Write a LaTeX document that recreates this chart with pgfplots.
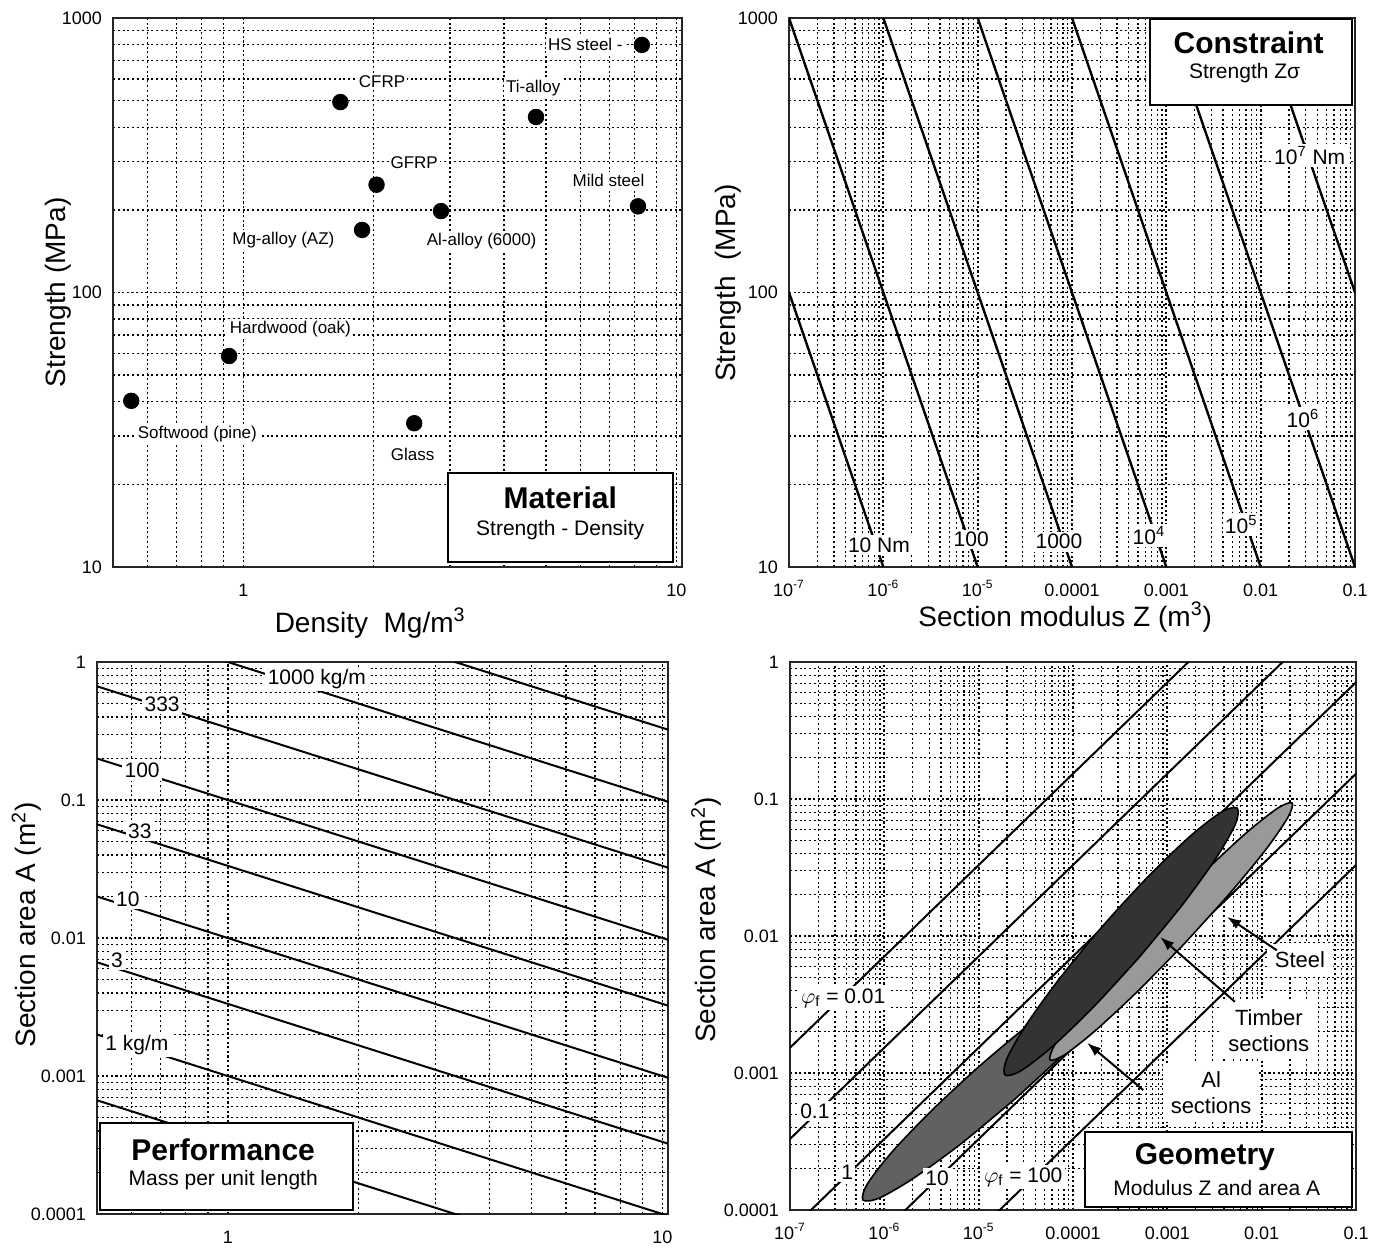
\documentclass[border=0pt]{standalone}
\usepackage{pgfplots}
\usepackage{pgfplotstable}
\pgfplotsset{compat=1.18}
\usepackage{fontspec}
\setmainfont{Liberation Sans}
\usetikzlibrary{arrows.meta}

\pgfplotsset{every axis/.append style={
    scale only axis,
    axis line style={black!85, line width=1.3pt},
    tick style={draw=none},
    grid=both,
    major grid style={black, line width=0.85pt, dash pattern=on 1.1pt off 1.2pt},
    minor grid style={black, line width=0.65pt, dash pattern=on 1pt off 1.4pt},
    tick label style={font=\fontsize{9}{10}\selectfont},
    xticklabel style={yshift=-4pt, text height=7pt, text depth=1pt},
    yticklabel style={xshift=-2pt},
    label style={font=\fontsize{14}{16}\selectfont},
}}
\tikzset{
  lbl/.style={font=\fontsize{8.5}{10}\selectfont, fill=white, inner sep=1pt},
  clbl/.style={font=\fontsize{10.5}{12}\selectfont, fill=white, inner sep=1.2pt},
  btitle/.style={font=\fontsize{15}{17}\selectfont\bfseries, inner sep=0pt},
  bsub/.style={font=\fontsize{10.5}{12}\selectfont, inner sep=0pt},
  boxframe/.style={draw=black, fill=white, line width=1pt},
  albl/.style={font=\fontsize{11}{13}\selectfont, fill=white, inner sep=4pt, align=center},
}

% ellipse outlines, log10(Z) and log10(A)
\pgfplotstableread{
lz la
-4.616 -3.190
-5.181 -3.513
-5.684 -3.765
-6.052 -3.912
-6.226 -3.927
-6.180 -3.810
-5.922 -3.579
-5.491 -3.269
-4.952 -2.926
-4.387 -2.603
-3.884 -2.351
-3.516 -2.204
-3.342 -2.189
-3.388 -2.306
-3.646 -2.537
-4.077 -2.847
-4.616 -3.190
}\altab

\pgfplotstableread{
lz la
-2.821 -2.057
-3.323 -2.409
-3.769 -2.694
-4.092 -2.868
-4.243 -2.905
-4.198 -2.800
-3.965 -2.566
-3.579 -2.243
-3.099 -1.877
-2.597 -1.525
-2.151 -1.240
-1.828 -1.066
-1.677 -1.029
-1.722 -1.134
-1.955 -1.368
-2.341 -1.691
-2.821 -2.057
}\steeltab

\pgfplotstableread{
lz la
-3.298 -2.155
-3.784 -2.519
-4.224 -2.810
-4.553 -2.984
-4.720 -3.014
-4.701 -2.896
-4.496 -2.648
-4.138 -2.307
-3.682 -1.925
-3.196 -1.561
-2.756 -1.270
-2.427 -1.096
-2.260 -1.066
-2.279 -1.184
-2.484 -1.432
-2.842 -1.773
-3.298 -2.155
}\timbertab

\begin{document}
\begin{tikzpicture}
\useasboundingbox (0,0) rectangle (689.5pt,-625.5pt);

% ---------------- Panel 1: Material ----------------
\begin{loglogaxis}[at={(56.5pt,-9pt)}, anchor=north west,
  width=284.5pt, height=274.5pt,
  xmin=0.5, xmax=10.3, xtick={1,10}, xticklabels={1,10},
  minor xtick={0.5,0.6,0.7,0.8,0.9,2,3,4,5,6,7,8,9},
  ymin=10, ymax=1000, ytick={10,100,1000}, yticklabels={10,100,1000},
  minor ytick={20,30,40,50,60,70,80,90,200,300,400,500,600,700,800,900},
  xlabel={Density\ \ Mg/m\textsuperscript{3}},
  ylabel={Strength (MPa)},
  xlabel style={at={(axis description cs:0.452,-0.102)}, anchor=center},
  ylabel style={at={(axis description cs:-0.097,0.5)}, anchor=center},
]
\node[lbl] at (axis cs:6.16,798) {HS steel -};
\node[lbl] at (axis cs:2.09,585) {CFRP};
\node[lbl] at (axis cs:4.67,556) {Ti-alloy};
\node[lbl] at (axis cs:2.48,296) {GFRP};
\node[lbl] at (axis cs:6.97,257) {Mild steel};
\node[lbl] at (axis cs:1.237,155) {Mg-alloy (AZ)};
\node[lbl] at (axis cs:3.55,154) {Al-alloy (6000)};
\node[lbl] at (axis cs:1.284,73.6) {Hardwood (oak)};
\node[lbl] at (axis cs:0.783,30.5) {Softwood (pine)};
\node[lbl] at (axis cs:2.46,25.8) {Glass};
\addplot[only marks, mark=*, mark size=3.9pt, black] coordinates {
 (0.551,40.3) (0.927,58.7) (1.675,494) (2.03,247) (1.88,169)
 (2.86,198) (2.48,33.4) (4.74,436) (8.32,798) (8.15,206)};
\draw[boxframe] (rel axis cs:0.589,0.009) rectangle (rel axis cs:0.984,0.171);
\node[btitle] at (rel axis cs:0.786,0.126) {Material};
\node[bsub] at (rel axis cs:0.786,0.067) {Strength - Density};
\end{loglogaxis}

% ---------------- Panel 2: Constraint ----------------
\begin{loglogaxis}[at={(394.5pt,-9pt)}, anchor=north west,
  width=283pt, height=274.5pt,
  xmin=1e-7, xmax=0.1,
  xtick={1e-7,1e-6,1e-5,1e-4,1e-3,1e-2,1e-1},
  xticklabels={10\textsuperscript{-7},10\textsuperscript{-6},10\textsuperscript{-5},0.0001,0.001,0.01,0.1},
  minor xtick={2e-7,3e-7,4e-7,5e-7,6e-7,7e-7,8e-7,9e-7,
               2e-6,3e-6,4e-6,5e-6,6e-6,7e-6,8e-6,9e-6,
               2e-5,3e-5,4e-5,5e-5,6e-5,7e-5,8e-5,9e-5,
               2e-4,3e-4,4e-4,5e-4,6e-4,7e-4,8e-4,9e-4,
               2e-3,3e-3,4e-3,5e-3,6e-3,7e-3,8e-3,9e-3,
               0.02,0.03,0.04,0.05,0.06,0.07,0.08,0.09},
  ymin=10, ymax=1000, ytick={10,100,1000}, yticklabels={10,100,1000},
  minor ytick={20,30,40,50,60,70,80,90,200,300,400,500,600,700,800,900},
  xlabel={Section modulus Z (m\textsuperscript{3})},
  ylabel={Strength\ \ (MPa)},
  xlabel style={at={(axis description cs:0.488,-0.091)}, anchor=center},
  ylabel style={at={(axis description cs:-0.108,0.517)}, anchor=center},
]
\addplot[black, line width=1.2pt] coordinates {(1e-7,100) (1e-6,10)};
\addplot[black, line width=1.2pt] coordinates {(1e-7,1000) (1e-5,10)};
\addplot[black, line width=1.2pt] coordinates {(1e-6,1000) (1e-4,10)};
\addplot[black, line width=1.2pt] coordinates {(1e-5,1000) (1e-3,10)};
\addplot[black, line width=1.2pt] coordinates {(1e-4,1000) (1e-2,10)};
\addplot[black, line width=1.2pt] coordinates {(1e-3,1000) (0.1,10)};
\addplot[black, line width=1.2pt] coordinates {(1e-2,1000) (0.1,100)};
\node[clbl] at (rel axis cs:0.159,0.040) {10 Nm};
\node[clbl] at (rel axis cs:0.322,0.050) {100};
\node[clbl] at (rel axis cs:0.477,0.046) {1000};
\node[clbl] at (rel axis cs:0.636,0.058) {10\textsuperscript{4}};
\node[clbl] at (rel axis cs:0.799,0.078) {10\textsuperscript{5}};
\node[clbl] at (rel axis cs:0.908,0.271) {10\textsuperscript{6}};
\node[clbl] at (rel axis cs:0.920,0.750) {10\textsuperscript{7} Nm};
\draw[boxframe] (rel axis cs:0.638,0.842) rectangle (rel axis cs:0.995,0.998);
\node[btitle] at (rel axis cs:0.812,0.954) {Constraint};
\node[bsub] at (rel axis cs:0.805,0.900) {Strength Zσ};
\end{loglogaxis}

% ---------------- Panel 3: Performance ----------------
\begin{loglogaxis}[at={(48.5pt,-331pt)}, anchor=north west,
  width=285.5pt, height=276pt,
  xmin=0.5, xmax=10.3, xtick={1,10}, xticklabels={1,10},
  minor xtick={0.5,0.6,0.7,0.8,0.9,2,3,4,5,6,7,8,9},
  ymin=1e-4, ymax=1, ytick={1e-4,1e-3,1e-2,1e-1,1},
  yticklabels={0.0001,0.001,0.01,0.1,1},
  minor ytick={2e-4,3e-4,4e-4,5e-4,6e-4,7e-4,8e-4,9e-4,
               2e-3,3e-3,4e-3,5e-3,6e-3,7e-3,8e-3,9e-3,
               0.02,0.03,0.04,0.05,0.06,0.07,0.08,0.09,
               0.2,0.3,0.4,0.5,0.6,0.7,0.8,0.9},
  ylabel={Section area A (m\textsuperscript{2})},
  ylabel style={at={(axis description cs:-0.123,0.524)}, anchor=center},
]
\addplot[black, line width=1pt] coordinates {(0.5,6.67e-4) (11,3.03e-5)};
\addplot[black, line width=1pt] coordinates {(0.5,0.002) (11,9.09e-5)};
\addplot[black, line width=1pt] coordinates {(0.5,0.00667) (11,3.03e-4)};
\addplot[black, line width=1pt] coordinates {(0.5,0.02) (11,9.09e-4)};
\addplot[black, line width=1pt] coordinates {(0.5,0.0667) (11,0.00303)};
\addplot[black, line width=1pt] coordinates {(0.5,0.2) (11,0.00909)};
\addplot[black, line width=1pt] coordinates {(0.5,0.667) (11,0.0303)};
\addplot[black, line width=1pt] coordinates {(0.5,2) (11,0.0909)};
\addplot[black, line width=1pt] coordinates {(0.5,6.67) (11,0.303)};
\node[clbl] at (rel axis cs:0.385,0.969) {1000 kg/m};
\node[clbl] at (rel axis cs:0.114,0.924) {333};
\node[clbl] at (rel axis cs:0.079,0.803) {100};
\node[clbl] at (rel axis cs:0.075,0.694) {33};
\node[clbl] at (rel axis cs:0.054,0.571) {10};
\node[clbl] at (rel axis cs:0.035,0.459) {3};
\node[clbl] at (rel axis cs:0.070,0.306) {1 kg/m};
\draw[boxframe] (rel axis cs:0.005,0.007) rectangle (rel axis cs:0.448,0.165);
\node[btitle] at (rel axis cs:0.221,0.116) {Performance};
\node[bsub] at (rel axis cs:0.221,0.062) {Mass per unit length};
\end{loglogaxis}

% ---------------- Panel 4: Geometry ----------------
\begin{loglogaxis}[at={(395pt,-331pt)}, anchor=north west,
  width=283pt, height=274pt,
  xmin=1e-7, xmax=0.1,
  xtick={1e-7,1e-6,1e-5,1e-4,1e-3,1e-2,1e-1},
  xticklabels={10\textsuperscript{-7},10\textsuperscript{-6},10\textsuperscript{-5},0.0001,0.001,0.01,0.1},
  minor xtick={2e-7,3e-7,4e-7,5e-7,6e-7,7e-7,8e-7,9e-7,
               2e-6,3e-6,4e-6,5e-6,6e-6,7e-6,8e-6,9e-6,
               2e-5,3e-5,4e-5,5e-5,6e-5,7e-5,8e-5,9e-5,
               2e-4,3e-4,4e-4,5e-4,6e-4,7e-4,8e-4,9e-4,
               2e-3,3e-3,4e-3,5e-3,6e-3,7e-3,8e-3,9e-3,
               0.02,0.03,0.04,0.05,0.06,0.07,0.08,0.09},
  ymin=1e-4, ymax=1, ytick={1e-4,1e-3,1e-2,1e-1,1},
  yticklabels={0.0001,0.001,0.01,0.1,1},
  minor ytick={2e-4,3e-4,4e-4,5e-4,6e-4,7e-4,8e-4,9e-4,
               2e-3,3e-3,4e-3,5e-3,6e-3,7e-3,8e-3,9e-3,
               0.02,0.03,0.04,0.05,0.06,0.07,0.08,0.09,
               0.2,0.3,0.4,0.5,0.6,0.7,0.8,0.9},
  ylabel={Section area A (m\textsuperscript{2})},
  ylabel style={at={(axis description cs:-0.148,0.529)}, anchor=center},
]
\addplot[black, line width=1pt] coordinates {(1e-7,1.53e-3) (0.1,15.3)};
\addplot[black, line width=1pt] coordinates {(1e-7,3.30e-4) (0.1,3.30)};
\addplot[black, line width=1pt] coordinates {(1e-7,7.11e-5) (0.1,0.711)};
\addplot[black, line width=1pt] coordinates {(1e-7,1.53e-5) (0.1,0.153)};
\addplot[black, line width=1pt] coordinates {(1e-7,3.30e-6) (0.1,0.0330)};
\addplot[draw=black, line width=0.8pt, fill=black!62, smooth]
  table[x expr=10^(\thisrow{lz}), y expr=10^(\thisrow{la})] {\altab};
\addplot[draw=black, line width=0.8pt, fill=black!40, smooth]
  table[x expr=10^(\thisrow{lz}), y expr=10^(\thisrow{la})] {\steeltab};
\addplot[draw=black, line width=0.8pt, fill=black!80, smooth]
  table[x expr=10^(\thisrow{lz}), y expr=10^(\thisrow{la})] {\timbertab};
\node[albl] at (rel axis cs:0.901,0.456) {Steel};
\node[albl] at (rel axis cs:0.846,0.328) {Timber\\sections};
\node[albl] at (rel axis cs:0.744,0.214) {Al\\sections};
\draw[-{Latex[length=7pt,width=5pt]}, line width=1pt] (rel axis cs:0.860,0.474) -- (rel axis cs:0.772,0.535);
\draw[-{Latex[length=7pt,width=5pt]}, line width=1pt] (rel axis cs:0.786,0.380) -- (rel axis cs:0.654,0.498);
\draw[-{Latex[length=7pt,width=5pt]}, line width=1pt] (rel axis cs:0.624,0.219) -- (rel axis cs:0.525,0.305);
\node[clbl] at (rel axis cs:0.094,0.387) {$\varphi_{\mathrm{f}}$ = 0.01};
\node[clbl] at (rel axis cs:0.044,0.181) {0.1};
\node[clbl] at (rel axis cs:0.101,0.069) {1};
\node[clbl] at (rel axis cs:0.260,0.058) {10};
\node[clbl] at (rel axis cs:0.412,0.060) {$\varphi_{\mathrm{f}}$ = 100};
\draw[boxframe] (rel axis cs:0.521,0.006) rectangle (rel axis cs:0.993,0.142);
\node[btitle] at (rel axis cs:0.733,0.097) {Geometry};
\node[bsub] at (rel axis cs:0.754,0.040) {Modulus Z and area A};
\end{loglogaxis}
\end{tikzpicture}
\end{document}
